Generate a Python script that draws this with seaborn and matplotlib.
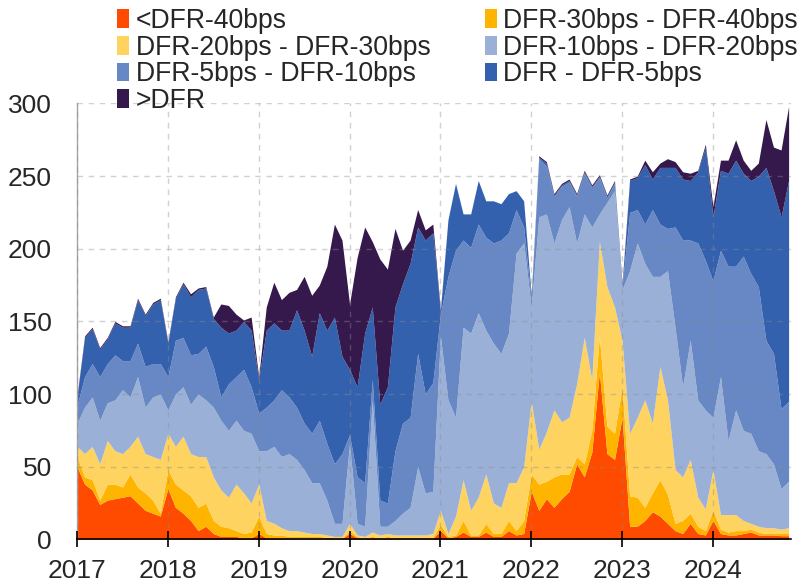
import numpy as np
import pandas as pd
import matplotlib
matplotlib.use("Agg")
import matplotlib.pyplot as plt
import seaborn as sns

# ---- data: monthly readings (cumulative levels) ----
dates = pd.date_range("2017-01-01", periods=95, freq="MS")

labels = ["<DFR-40bps", "DFR-30bps - DFR-40bps", "DFR-20bps - DFR-30bps",
          "DFR-10bps - DFR-20bps", "DFR-5bps - DFR-10bps", "DFR - DFR-5bps", ">DFR"]
colors = ["#FF4B00", "#FFB400", "#FFD35F", "#9AB0D7", "#6788C4", "#3361AE", "#35184C"]

# top of <DFR-40bps
lvl_lt40 = [50, 38, 34, 24, 27, 28, 29, 30, 25, 20, 18, 16,
            35, 22, 18, 13, 6, 9, 4, 2, 2, 2, 1, 1,
            4, 1, 1, 1, 1, 0.5, 0.5, 0.5, 0.5, 0.5, 0.5, 0.5,
            4, 1, 0.5, 1, 0.5, 1, 0.5, 0.5, 0.5, 0.5, 0.5, 0.5,
            6, 1, 2, 5, 2, 2, 5, 2, 2, 6, 3, 4,
            33, 20, 28, 22, 28, 33, 52, 43, 60, 115, 59, 55,
            84, 9, 9, 13, 19, 16, 11, 6, 4, 11, 4, 3,
            13, 4, 3, 3, 4, 5, 3, 3, 3, 2.5, 2.5]
# top of DFR-30bps - DFR-40bps
lvl_30_40 = [57, 43, 41, 27, 38, 38, 36, 45, 36, 32, 27, 18,
             48, 38, 34, 30, 22, 25, 13, 9, 8, 6, 4, 5,
             16, 4, 3, 3, 2, 2, 2, 2, 2, 1.5, 1, 1,
             6, 2, 1, 2, 1, 2, 1, 1, 1, 1, 1, 1.5,
             10, 2, 3, 13, 3, 3, 11, 4, 4, 13, 6, 13,
             45, 38, 40, 43, 45, 45, 57, 52, 75, 140, 78, 73,
             105, 30, 29, 22, 32, 41, 31, 11, 13, 18, 9, 6,
             20, 7, 5, 6, 6, 7, 5, 4, 4, 4, 4]
# top of DFR-20bps - DFR-30bps
lvl_20_30 = [64, 59, 64, 52, 68, 61, 59, 64, 71, 59, 57, 55,
             73, 64, 71, 59, 57, 57, 43, 34, 29, 38, 32, 25,
             38, 13, 11, 8, 6, 6, 5, 4, 4, 3, 2, 2,
             11, 3, 2, 5, 3, 4, 3, 3, 3, 3, 3, 4,
             20, 4, 16, 41, 20, 29, 45, 25, 22, 39, 39, 50,
             95, 62, 74, 89, 81, 84, 107, 139, 110, 205, 174, 160,
             137, 73, 84, 96, 80, 119, 96, 48, 43, 55, 29, 21,
             48, 17, 17, 17, 13, 11, 9, 8, 8, 7, 8]
# top of DFR-10bps - DFR-20bps
lvl_10_20 = [80, 91, 98, 82, 94, 96, 103, 98, 112, 91, 98, 100,
             89, 100, 105, 93, 100, 96, 91, 82, 75, 82, 75, 73,
             61, 61, 64, 57, 59, 55, 48, 39, 39, 27, 11, 11,
             66, 11, 9, 96, 9, 9, 13, 18, 22, 50, 32, 33,
             140, 96, 84, 146, 142, 156, 144, 135, 128, 142, 197, 204,
             160, 222, 224, 204, 220, 229, 204, 224, 215, 224, 232, 240,
             172, 185, 204, 190, 181, 181, 185, 146, 105, 137, 96, 89,
             84, 112, 68, 89, 75, 73, 61, 59, 52, 35, 40]
# top of DFR-5bps - DFR-10bps
lvl_5_10 = [92, 112, 121, 112, 121, 127, 123, 123, 135, 119, 121, 121,
            112, 137, 139, 127, 128, 133, 119, 98, 107, 112, 117, 105,
            87, 91, 96, 103, 98, 91, 80, 73, 82, 66, 52, 59,
            72, 43, 39, 110, 27, 25, 61, 80, 84, 128, 100, 108,
            155, 181, 199, 206, 201, 217, 208, 204, 206, 211, 227, 215,
            165, 262, 257, 236, 243, 246, 236, 252, 242, 249, 235, 245,
            174, 225, 227, 217, 227, 217, 214, 215, 206, 206, 204, 192,
            178, 199, 188, 188, 195, 183, 174, 137, 128, 90, 95]
# top of DFR - DFR-5bps
lvl_0_5 = [98, 139, 145, 131, 138, 149, 146, 146, 165, 154, 162, 165,
           135, 166, 176, 167, 172, 173, 152, 146, 142, 144, 150, 144,
           110, 144, 149, 144, 144, 158, 144, 126, 156, 144, 153, 126,
           117, 105, 142, 160, 93, 105, 160, 176, 190, 215, 206, 211,
           157, 220, 245, 224, 224, 247, 233, 233, 231, 238, 240, 233,
           167, 263, 259, 237, 244, 247, 237, 253, 243, 250, 236, 246,
           175, 247, 249, 258, 248, 256, 256, 256, 248, 247, 253, 270,
           222, 254, 252, 261, 252, 247, 250, 256, 240, 222, 247]
# top of >DFR (total)
lvl_total = [99, 140, 146, 132, 139, 150, 147, 147, 166, 155, 163, 166,
             136, 167, 177, 169, 173, 174, 153, 162, 161, 155, 151, 153,
             112, 160, 177, 165, 170, 172, 181, 168, 175, 188, 217, 206,
             162, 194, 215, 205, 193, 186, 214, 199, 206, 227, 213, 217,
             158, 220, 245, 224, 224, 247, 233, 233, 231, 238, 240, 233,
             168, 264, 260, 238, 245, 248, 238, 254, 244, 251, 237, 247,
             176, 248, 250, 261, 253, 259, 262, 260, 253, 252, 254, 272,
             229, 261, 261, 275, 261, 254, 259, 289, 270, 268, 298]

# ---- derive layer thickness from the cumulative readings ----
levels = np.array([lvl_lt40, lvl_30_40, lvl_20_30, lvl_10_20, lvl_5_10, lvl_0_5, lvl_total], dtype=float)
levels = np.maximum.accumulate(levels, axis=0)
layers = np.diff(np.vstack([np.zeros(levels.shape[1]), levels]), axis=0)
xs = dates.year + (dates.month - 1) / 12.0

# ---- style ----
sns.set_theme(style="white")
plt.rcParams["font.family"] = ["Liberation Sans", "DejaVu Sans"]

fig = plt.figure(figsize=(8.08, 5.84), dpi=100)
ax = fig.add_axes([0.0953, 0.0765, 0.8837, 0.7463])

polys = ax.stackplot(xs, layers, colors=colors, labels=labels, linewidth=0, zorder=2)

ax.set_xlim(2017, 2024.86)
ax.set_ylim(0, 300)
ax.set_yticks([0, 50, 100, 150, 200, 250, 300])
ax.set_xticks(range(2017, 2025))
ax.set_xticklabels([str(y) for y in range(2017, 2025)])

ax.grid(True, axis="both", color="#8c8c8c", alpha=0.4, linestyle=(0, (4, 4)), linewidth=1, zorder=3)
ax.set_axisbelow(False)
for line in ax.get_xgridlines() + ax.get_ygridlines():
    line.set_zorder(3)

for s in ["top", "right"]:
    ax.spines[s].set_visible(False)
ax.spines["left"].set_color("#a6a6a6")
ax.spines["left"].set_linewidth(1)
ax.spines["bottom"].set_color("black")
ax.spines["bottom"].set_linewidth(1.2)
ax.spines["bottom"].set_zorder(4)

ax.tick_params(axis="x", direction="inout", length=11, width=1.2, color="black",
               labelsize=19, pad=9, bottom=True)
ax.tick_params(axis="y", length=0, labelsize=19, pad=18, left=False)

ax.set_facecolor("white")

order = [0, 2, 4, 6, 1, 3, 5]
handles = [polys[i] for i in order]
lbls = [labels[i] for i in order]
fig.legend(handles, lbls, loc="upper left", bbox_to_anchor=(0.122, 1.018), ncol=2,
           frameon=False, fontsize=19.2, handlelength=0.45, handleheight=0.7,
           handletextpad=0.25, labelspacing=0.02, columnspacing=2.03, borderpad=0.2)

fig.savefig("out.png", dpi=100)
